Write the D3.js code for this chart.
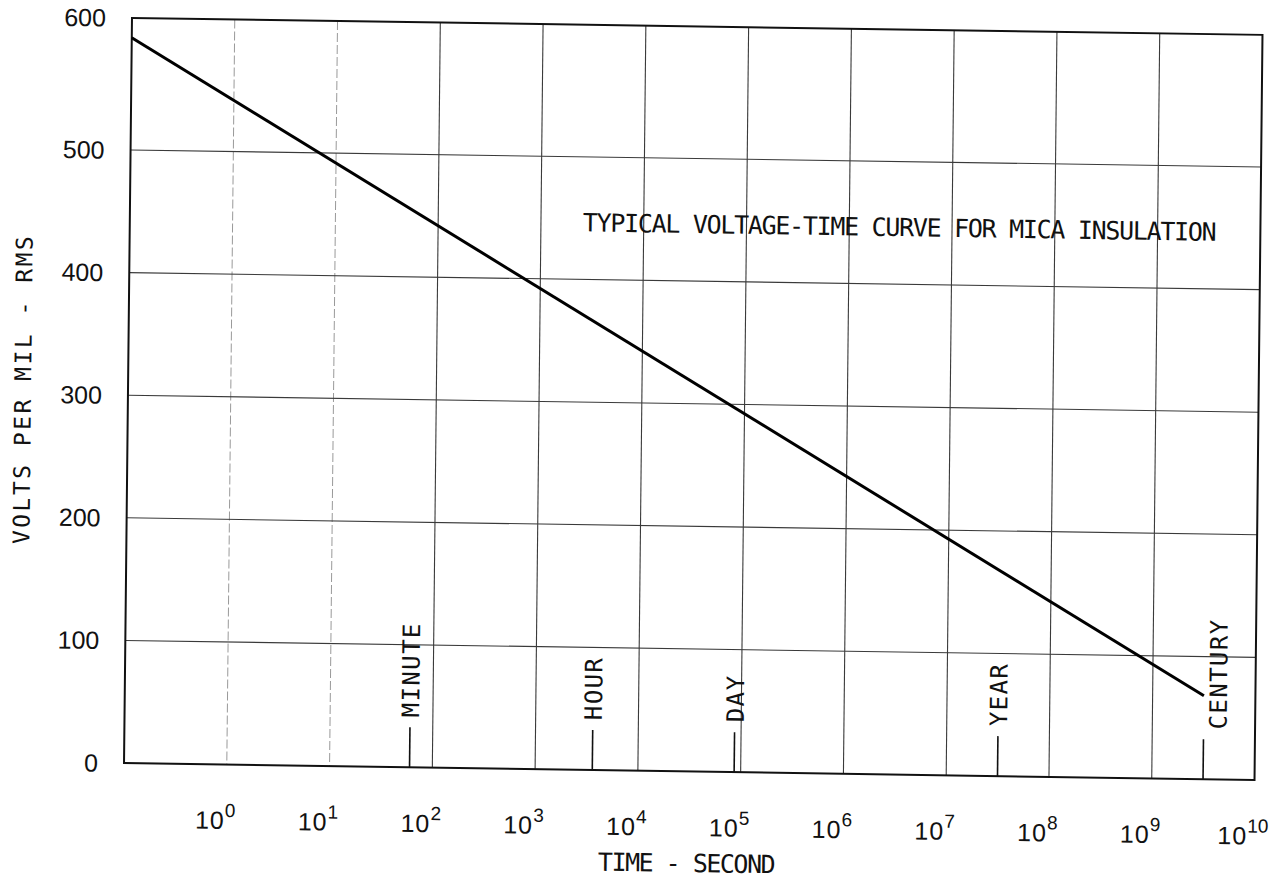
<!DOCTYPE html>
<html>
<head>
<meta charset="utf-8">
<script src="https://cdn.jsdelivr.net/npm/d3@7"></script>
<style>
  html, body { margin: 0; padding: 0; background: #fff; }
  svg { display: block; }
  text { font-family: "DejaVu Sans Mono", "Liberation Mono", monospace; fill: #111; }
  text.num { font-family: "Liberation Sans", Arial, sans-serif; }
</style>
</head>
<body>
<svg id="chart" width="1272" height="879"></svg>
<script>
// Time axis: decades of seconds (log scale), grid drawn at each decade
const gridExponents = [0, 1, 2, 3, 4, 5, 6, 7, 8, 9];
const tickExponents = [0, 1, 2, 3, 4, 5, 6, 7, 8, 9, 10];
const xDomain = [1e-1, 1e10];

// Voltage axis (volts per mil, RMS)
const yTicks = [0, 100, 200, 300, 400, 500, 600];

// Voltage-time curve for mica insulation: volts per mil vs seconds
const curveSeconds = [1e-1, 3.156e9];
const curveVolts = [585, 68];

// Reference durations marked along the time axis
const markerNames = ["MINUTE", "HOUR", "DAY", "YEAR", "CENTURY"];
const markerSeconds = [60, 3600, 86400, 3.156e7, 3.156e9];

const titleText = "TYPICAL VOLTAGE-TIME CURVE FOR MICA INSULATION";
const xTitle = "TIME - SECOND";
const yTitle = "VOLTS PER MIL - RMS";

const W = 1272, H = 879;
const frame = { left: 128, right: 1258.5, top: 26.4, bottom: 771.5 };

const svg = d3.select("#chart");
svg.append("rect").attr("width", W).attr("height", H).attr("fill", "#fff");

// The sheet sits slightly tilted on the page
const cx = 693, cy = 399, tiltX = 0.015, tiltY = 0.0107;
const e = cx - (cx - tiltY * cy), f = cy - (tiltX * cx + cy);
const g = svg.append("g")
  .attr("transform", `matrix(1, ${tiltX}, ${-tiltY}, 1, ${e}, ${f})`);

const x = d3.scaleLog().domain(xDomain).range([frame.left, frame.right]);
// Vertical spacing as plotted on the sheet (top division is a little taller)
const y = d3.scaleLinear().domain([0, 500, 600]).range([frame.bottom, 158.5, frame.top]);

// Vertical decade grid
g.append("g").selectAll("line").data(gridExponents).join("line")
  .attr("x1", d => x(Math.pow(10, d))).attr("x2", d => x(Math.pow(10, d)))
  .attr("y1", frame.top).attr("y2", frame.bottom)
  .attr("stroke", d => d <= 1 ? "#999" : "#3a3a3a")
  .attr("stroke-width", d => d <= 1 ? 1 : 1.1)
  .attr("stroke-dasharray", d => d <= 1 ? "9,3" : null);

// Horizontal voltage grid
g.append("g").selectAll("line").data(yTicks.filter(v => v > 0 && v < 600)).join("line")
  .attr("x1", frame.left).attr("x2", frame.right)
  .attr("y1", d => y(d)).attr("y2", d => y(d))
  .attr("stroke", "#3a3a3a").attr("stroke-width", 1.1);

// Frame
g.append("rect")
  .attr("x", frame.left).attr("y", frame.top)
  .attr("width", frame.right - frame.left).attr("height", frame.bottom - frame.top)
  .attr("fill", "none").attr("stroke", "#111").attr("stroke-width", 2);

// Y tick labels
g.append("g").selectAll("text").data(yTicks).join("text")
  .attr("class", "num")
  .attr("x", frame.left - 26).attr("y", d => y(d))
  .attr("text-anchor", "end").attr("dominant-baseline", "central")
  .attr("font-size", 25)
  .text(d => d);

// X tick labels 10^n
const xt = g.append("g").selectAll("text").data(tickExponents).join("text")
  .attr("class", "num")
  .attr("x", d => x(Math.pow(10, d)) - 11).attr("y", 836)
  .attr("text-anchor", "middle").attr("font-size", 25);
xt.append("tspan").attr("letter-spacing", 1).text("10");
xt.append("tspan").attr("dy", -12).attr("font-size", 19)
  .text(d => d);

// Curve
const line = d3.line().x(d => x(d[0])).y(d => y(d[1]));
g.append("path")
  .datum(d3.zip(curveSeconds, curveVolts))
  .attr("d", line)
  .attr("fill", "none").attr("stroke", "#000").attr("stroke-width", 3);

// Duration markers with upright labels
const markerLen = 40;
const markers = g.append("g").selectAll("g").data(d3.zip(markerNames, markerSeconds)).join("g");
markers.append("line")
  .attr("x1", d => x(d[1])).attr("x2", d => x(d[1]))
  .attr("y1", y(0)).attr("y2", y(0) - markerLen)
  .attr("stroke", "#111").attr("stroke-width", 1.6);
markers.append("text")
  .attr("transform", d => {
    const tx = x(d[1]) + (d[0] === "CENTURY" ? 15 : 1);
    return `translate(${tx},${y(0) - markerLen - 10}) rotate(-90)`;
  })
  .attr("dominant-baseline", "central")
  .attr("font-size", 24).attr("letter-spacing", 1.4)
  .text(d => d[0]);

// Title inside the plot
g.append("text")
  .attr("x", 581).attr("y", 233)
  .attr("font-size", 25).attr("letter-spacing", -1.3)
  .text(titleText);

// Axis titles
g.append("text")
  .attr("x", 691).attr("y", 872)
  .attr("text-anchor", "middle")
  .attr("font-size", 25).attr("letter-spacing", -1.5)
  .text(xTitle);

g.append("text")
  .attr("transform", "translate(23,399) rotate(-90)")
  .attr("text-anchor", "middle").attr("dominant-baseline", "central")
  .attr("font-size", 23).attr("letter-spacing", 2.5)
  .text(yTitle);
</script>
</body>
</html>
